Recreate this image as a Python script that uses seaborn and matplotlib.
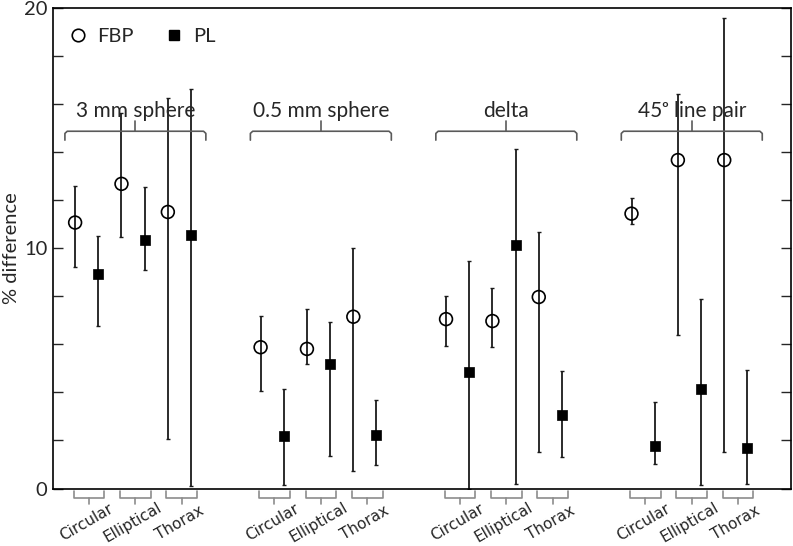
import numpy as np
import pandas as pd
import matplotlib
matplotlib.use('Agg')
import matplotlib.pyplot as plt
from matplotlib.lines import Line2D
from matplotlib.ticker import MultipleLocator
import seaborn as sns

# categories
groups = ['3 mm sphere', '0.5 mm sphere', 'delta', '45ᵒ line pair']
phantoms = ['Circular', 'Elliptical', 'Thorax']

# values, ordered group by group, phantom by phantom
fbp_mean = [11.07, 12.68, 11.51, 5.88, 5.81, 7.15, 7.05, 6.97, 7.97, 11.44, 13.67, 13.67]
fbp_low = [9.20, 10.47, 2.05, 4.05, 5.19, 0.74, 5.92, 5.91, 1.51, 11.02, 6.38, 1.51]
fbp_high = [12.60, 15.65, 16.26, 7.17, 7.48, 10.03, 8.02, 8.34, 10.66, 12.09, 16.40, 19.59]

pl_mean = [8.91, 10.33, 10.56, 2.17, 5.17, 2.22, 4.85, 10.13, 3.08, 1.77, 4.15, 1.70]
pl_low = [6.78, 9.08, 0.10, 0.15, 1.34, 0.97, 0.00, 0.19, 1.33, 1.02, 0.13, 0.17]
pl_high = [10.49, 12.55, 16.63, 4.13, 6.91, 3.69, 9.48, 14.12, 4.88, 3.62, 7.87, 4.94]

sns.set_style('ticks')
plt.rcParams['font.family'] = ['Lato', 'DejaVu Sans']

# x position of each phantom slot: 3 per group, one empty slot between groups
centers = [4 * g + p for g in range(len(groups)) for p in range(len(phantoms))]

rows = []
for i, c in enumerate(centers):
    rows.append({'x': c - 0.30, 'value': fbp_mean[i], 'low': fbp_low[i], 'high': fbp_high[i], 'method': 'FBP'})
    rows.append({'x': c + 0.20, 'value': pl_mean[i], 'low': pl_low[i], 'high': pl_high[i], 'method': 'PL'})
df = pd.DataFrame(rows)

fig = plt.figure(figsize=(7.93, 5.46), dpi=100)
ax = fig.add_axes([53 / 793, 57.5 / 546, 738 / 793, 480.5 / 546])

for m in ['FBP', 'PL']:
    d = df[df.method == m]
    ax.errorbar(d.x, d.value, yerr=[d.value - d.low, d.high - d.value], fmt='none',
                ecolor='#1a1a1a', elinewidth=1.3, capsize=1.2, capthick=1.0, zorder=1)

fbp = df[df.method == 'FBP']
pl = df[df.method == 'PL']
sns.scatterplot(data=fbp, x='x', y='value', marker='o', s=85, color='white',
                edgecolor='black', linewidth=1.2, zorder=3, ax=ax, legend=False)
ax.collections[-1].set_facecolor('none')
sns.scatterplot(data=pl, x='x', y='value', marker='s', s=55, color='black',
                edgecolor='black', linewidth=0.5, zorder=3, ax=ax, legend=False)

ax.set_xlim(-0.777, 15.14)
ax.set_ylim(0, 20)
ax.set_xticks([])
ax.set_yticks([0, 10, 20])
ax.yaxis.set_minor_locator(MultipleLocator(2))
ax.tick_params(axis='y', which='both', direction='in', length=7, width=1.0,
               right=True, labelsize=14.5, pad=4)
ax.set_xlabel('')
ax.set_ylabel('% difference', fontsize=14.5, labelpad=3)
for s in ax.spines.values():
    s.set_visible(True)
    s.set_color('black')
    s.set_linewidth(1.2)

# brackets and labels under each phantom slot
for i, c in enumerate(centers):
    ax.plot([c - 0.33, c - 0.33, c + 0.33, c + 0.33], [-0.1, -0.38, -0.38, -0.1],
            color='#8c8c8c', lw=1.2, clip_on=False)
    ax.plot([c, c], [-0.38, -0.66], color='#8c8c8c', lw=1.2, clip_on=False)
    ax.text(c - 0.05, -1.42, phantoms[i % 3], rotation=30, ha='center', va='center',
            fontsize=11, family='DejaVu Sans', clip_on=False)

# group braces on top
for g, name in enumerate(groups):
    gc = 4 * g + 1
    x0, x1 = gc - 1.52, gc + 1.52
    ax.plot([x0, x0, x0 + 0.05, x1 - 0.05, x1, x1], [14.5, 14.78, 14.87, 14.87, 14.78, 14.5],
            color='#5a5a5a', lw=1.2)
    ax.plot([gc, gc], [14.87, 15.3], color='#5a5a5a', lw=1.2)
    ax.text(gc, 15.45, name, ha='center', va='baseline', fontsize=15)

handles = [Line2D([], [], marker='o', ls='none', mfc='none', mec='black', ms=9, mew=1.2),
           Line2D([], [], marker='s', ls='none', color='black', ms=7)]
ax.legend(handles, ['FBP', 'PL'], loc='upper left', bbox_to_anchor=(-0.007, 1.0), ncol=2,
          frameon=False, fontsize=14.5, handlelength=1.0, handletextpad=0.45,
          columnspacing=1.5, borderaxespad=0.6)

fig.savefig('out.png', dpi=100)
